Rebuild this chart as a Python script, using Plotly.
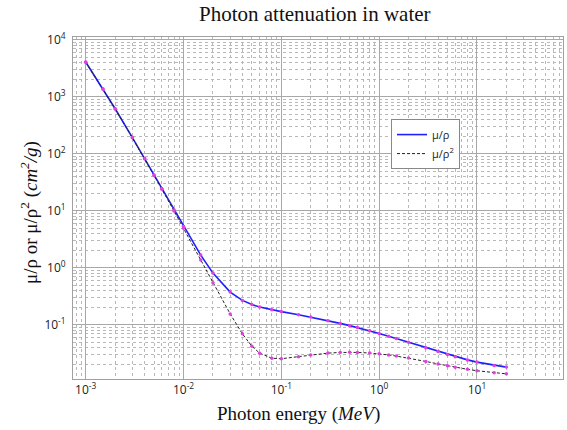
import plotly.graph_objects as go

energy = [1.0e-3, 1.5e-3, 2.0e-3, 3.0e-3, 4.0e-3, 5.0e-3, 6.0e-3, 8.0e-3, 1.0e-2, 1.5e-2,
          2.0e-2, 3.0e-2, 4.0e-2, 5.0e-2, 6.0e-2, 8.0e-2, 1.0e-1, 1.5e-1, 2.0e-1, 3.0e-1,
          4.0e-1, 5.0e-1, 6.0e-1, 8.0e-1, 1.0, 1.25, 1.5, 2.0, 3.0, 4.0, 5.0, 6.0, 8.0,
          10.0, 15.0, 20.0]
mu_rho = [4078, 1376, 617.3, 192.9, 82.78, 42.58, 24.64, 10.37, 5.329, 1.673,
          0.8096, 0.3756, 0.2683, 0.2269, 0.2059, 0.1837, 0.1707, 0.1505, 0.1370, 0.1186,
          0.1061, 0.09687, 0.08956, 0.07865, 0.07072, 0.06323, 0.05754, 0.04942, 0.03969,
          0.03403, 0.03031, 0.02770, 0.02429, 0.02219, 0.01941, 0.01813]
mu_rho2 = [4065, 1372, 615.2, 191.7, 81.91, 41.88, 24.05, 9.915, 4.944, 1.374,
           0.5503, 0.1557, 0.06947, 0.04223, 0.03190, 0.02597, 0.02546, 0.02764, 0.02967,
           0.03192, 0.03279, 0.03299, 0.03284, 0.03206, 0.03103, 0.02965, 0.02833, 0.02608,
           0.02281, 0.02066, 0.01915, 0.01806, 0.01658, 0.01566, 0.01441, 0.01382]

x_tickvals = [1e-3, 1e-2, 1e-1, 1, 10]
x_ticktext = ["10<sup>-3</sup>", "10<sup>-2</sup>", "10<sup>-1</sup>", "10<sup>0</sup>", "10<sup>1</sup>"]
y_tickvals = [1e-1, 1, 10, 100, 1000, 10000]
y_ticktext = ["10<sup>-1</sup>", "10<sup>0</sup>", "10<sup>1</sup>", "10<sup>2</sup>", "10<sup>3</sup>", "10<sup>4</sup>"]

fig = go.Figure()
fig.add_trace(go.Scatter(x=energy, y=mu_rho, mode="lines", name="μ/ρ",
                         line=dict(color="#2020ff", width=1.6)))
fig.add_trace(go.Scatter(x=energy, y=mu_rho2, mode="lines", name="μ/ρ<sup>2</sup>",
                         line=dict(color="#222222", width=1, dash="3px,2px")))
fig.add_trace(go.Scatter(x=energy, y=mu_rho, mode="markers", showlegend=False,
                         marker=dict(color="#e040e0", size=3.5)))
fig.add_trace(go.Scatter(x=energy, y=mu_rho2, mode="markers", showlegend=False,
                         marker=dict(color="#e040e0", size=3.5)))

axis_common = dict(
    type="log",
    showgrid=True, gridcolor="#a8a8a8", gridwidth=1,
    showline=True, linecolor="#a0a0a0", linewidth=1, mirror=True,
    ticks="", zeroline=False,
    tickfont=dict(family="Open Sans, sans-serif", size=12, color="#222"),
    minor=dict(dtick="D1", showgrid=True, gridcolor="#b8b8b8", griddash="dot", gridwidth=1),
)

fig.update_xaxes(range=[-3.13, 1.88], tickvals=x_tickvals, ticktext=x_ticktext, **axis_common)
fig.update_yaxes(range=[-1.95, 4.05], tickvals=y_tickvals, ticktext=y_ticktext, ticklabelstandoff=4, **axis_common)

fig.update_layout(
    width=567, height=430,
    margin=dict(l=73, r=4, t=37, b=51),
    paper_bgcolor="white", plot_bgcolor="white",
    showlegend=True,
    legend=dict(x=0.649, y=0.76, xanchor="left", yanchor="top",
                bgcolor="white", bordercolor="#888888", borderwidth=1,
                font=dict(family="Open Sans, sans-serif", size=11, color="#222"),
                itemwidth=30, tracegroupgap=4),
    annotations=[
        dict(text="Photon attenuation in water", xref="paper", yref="paper",
             x=(315 - 73) / 490, y=1 + (37 - 14) / 342, xanchor="center", yanchor="middle",
             showarrow=False, font=dict(family="Liberation Serif, serif", size=21, color="#111")),
        dict(text="Photon energy (<i>MeV</i>)", xref="paper", yref="paper",
             x=(298 - 73) / 490, y=-(414 - 379) / 342, xanchor="center", yanchor="middle",
             showarrow=False, font=dict(family="Liberation Serif, serif", size=19, color="#111")),
        dict(text="μ/ρ or μ/ρ<sup>2</sup> (<i>cm<sup>2</sup>/g</i>)", xref="paper", yref="paper",
             x=-(73 - 29) / 490, y=1 - (213 - 37) / 342, xanchor="center", yanchor="middle",
             textangle=-90, showarrow=False,
             font=dict(family="Liberation Serif, serif", size=19, color="#111")),
    ],
)

fig.write_html("out.html")
